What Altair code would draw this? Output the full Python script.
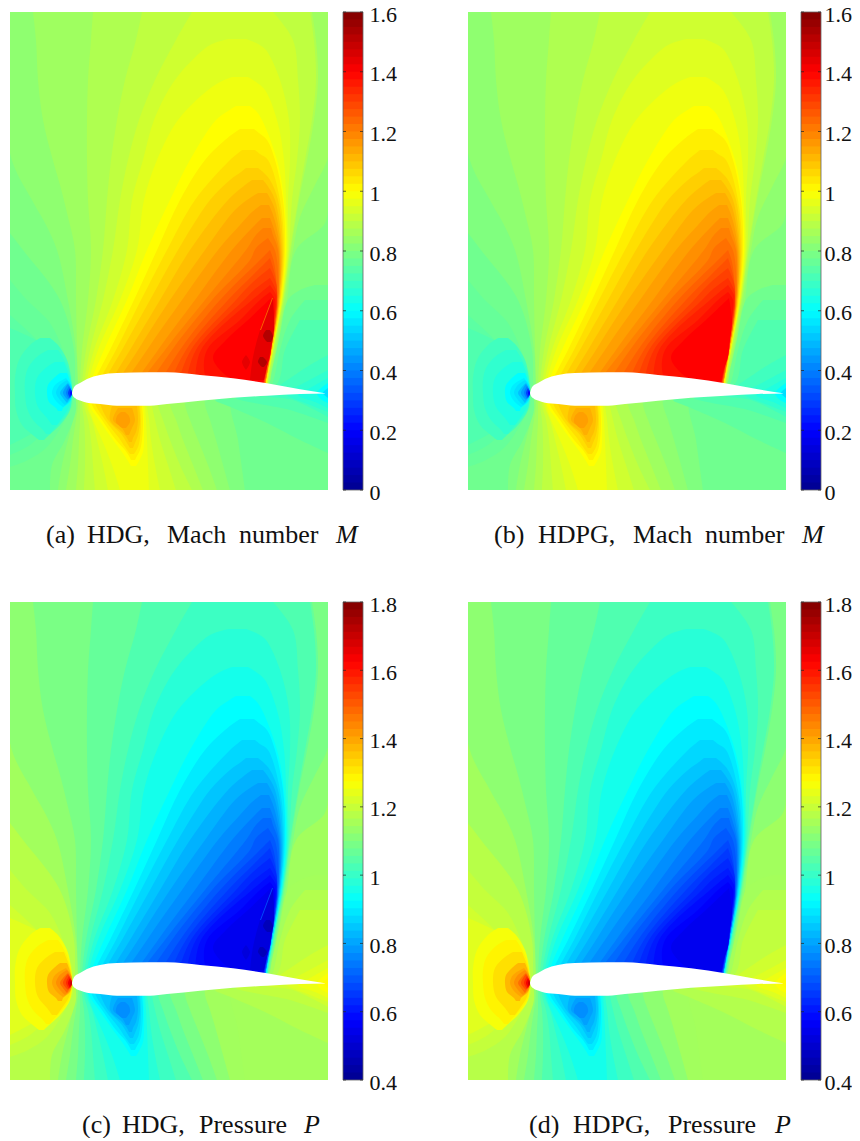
import altair as alt
import pandas as pd

# Everything below was read off the picture. Field contours are stored as rows
# (y, x_left, x_right) in the source frame (x 10..328, y 12..490).
BASE_MACH = 0.8
BASE_PRESSURE = 1.148
BASE_ROWS = [(12, 10, 328), (490, 10, 328)]

UPPER_MACH = [0.825, 0.85, 0.875, 0.9, 0.925, 0.95, 0.975, 1.0, 1.025, 1.05, 1.075, 1.1, 1.125,
              1.15, 1.175, 1.2, 1.225, 1.25, 1.275, 1.3, 1.325, 1.35, 1.375, 1.4]
UPPER_PRESSURE = [1.12, 1.092, 1.064, 1.034, 1.007, 0.98, 0.952, 0.925, 0.898, 0.872, 0.845, 0.82, 0.795,
                  0.77, 0.745, 0.72, 0.697, 0.674, 0.652, 0.63, 0.61, 0.59, 0.57, 0.55]
UPPER_ROWS = [
    [(12,10,328),(153,10,328),(200,32,328),(223,45,325),(250,57,296),(300,68,287),(350,76,277),(385,78,270),(391,78,269)],
    [(12,33,328),(40,36,328),(80,38,328),(120,43,328),(157,52,328),(185,60,315),(217,68,300),(250,75,293),(300,76,285),(350,77,276),(385,78,269),(391,78,268)],
    [(12,93,312),(40,91,316),(80,88,318),(120,87,314),(160,87,307),(200,88,299),(250,91,291),(300,88,284),(350,82,275),(385,80,268),(391,80,267)],
    [(12,142,310),(40,136,314),(80,125,316),(120,117,312),(160,111,305),(200,107,298),(250,103,290),(300,96,283),(350,86,274),(385,82,267),(391,82,266)],
    [(12,192,273),(40,176,293),(80,155,298),(120,139,300),(160,128,297),(200,120,292),(250,113,289),(300,103,283),(350,90,273),(385,84,267),(391,84,266)],
    [(39,228,246),(44,212,258),(50,203,266),(80,175,280),(120,154,289),(160,143,290),(200,132,288),(250,127,288),(300,113,282),(350,94,273),(385,86,267),(391,86,266)],
    [(77,232,248),(82,220,256),(90,208,265),(120,178,277),(160,157,284),(200,144,286),(250,137,287),(300,120,282),(350,98,273),(385,88,266),(391,88,265)],
    [(106,236,250),(111,228,256),(120,216,262),(160,190,277),(200,170,284),(250,147,286),(300,127,281),(350,104,272),(385,90,266),(391,90,265)],
    [(129,240,254),(133,234,259),(140,225,267),(160,205,275),(200,180,283),(250,157,285),(300,134,281),(350,110,272),(385,93,266),(391,93,265)],
    [(150,242,255),(154,237,260),(160,230,268),(200,195,280),(250,167,284),(300,141,280),(350,116,272),(385,98,265),(391,98,264)],
    [(168,246,258),(172,241,263),(180,230,270),(200,210,278),(250,178,283),(300,150,280),(350,122,272),(385,103,265),(391,103,264)],
    [(180,252,263),(185,245,267),(200,228,275),(250,190,282),(300,160,279),(350,130,271),(385,110,265),(391,110,264)],
    [(193,258,267),(198,250,270),(210,235,275),(250,205,281),(300,170,279),(350,138,271),(385,117,265),(391,117,264)],
    [(205,261,269),(212,252,272),(225,240,276),(250,218,280),(300,182,279),(350,147,271),(385,125,265),(391,125,264)],
    [(218,262,270),(226,254,273),(250,232,279),(300,195,278),(350,158,271),(385,135,265),(391,135,264)],
    [(228,263,271),(235,256,273),(250,246,278),(300,205,278),(350,165,271),(385,140,265),(391,140,264)],
    [(238,268,268),(248,256,274),(260,250,277),(300,212,278),(350,172,271),(385,150,264),(391,150,263)],
    [(250,270,270),(262,258,274),(300,220,277),(350,180,271),(385,160,264),(391,160,263)],
    [(258,270,270),(275,253,275),(300,228,277),(350,186,270),(385,170,264),(391,170,263)],
    [(268,270,270),(283,252,276),(300,236,277),(350,191,270),(385,178,264),(391,178,263)],
    [(278,270,270),(290,254,276),(300,244,277),(350,196,270),(385,186,263),(391,186,262)],
    [(285,270,270),(295,258,276),(300,252,276),(350,201,270),(385,195,263),(391,195,262)],
    [(292,270,270),(300,260,275),(320,240,274),(350,207,270),(375,205,265),(391,215,262)],
    [(298,271,271),(320,248,274),(340,226,272),(357,213,270),(372,222,265),(391,250,262)],
]

LOWER_MACH = [0.825, 0.85, 0.875, 0.9, 0.925, 0.95, 0.975, 1.0, 1.025, 1.05, 1.075, 1.1, 1.125, 1.15]
LOWER_PRESSURE = [1.12, 1.092, 1.064, 1.034, 1.007, 0.98, 0.952, 0.925, 0.898, 0.872, 0.845, 0.82, 0.795, 0.77]
LOWER_ROWS = [
    [(395,76,205),(405,76,205),(420,73,210),(440,68,216),(465,62,223),(490,58,230)],
    [(395,78,185),(405,78,185),(420,76,190),(440,73,198),(465,70,208),(490,66,217)],
    [(395,80,170),(405,80,170),(420,80,176),(440,79,183),(465,78,193),(490,76,203)],
    [(395,82,158),(405,82,158),(420,84,163),(440,85,170),(465,85,180),(490,84,192)],
    [(395,84,152),(405,84,152),(420,88,155),(440,91,160),(465,93,168),(490,95,176)],
    [(395,86,147),(405,86,147),(420,92,149),(440,97,151),(465,103,155),(490,108,160)],
    [(395,88,145),(405,88,145),(420,93,146),(440,102,147),(465,112,148),(490,120,149)],
    [(395,88,143),(405,89,143),(420,99,144),(440,113,144),(452,122,143),(461,128,139),(466,131,136)],
    [(395,91,141),(405,92,142),(420,102,143),(440,116,142),(450,125,140),(456,129,137),(460,131,135)],
    [(395,95,140),(403,95,140),(420,105,141),(438,119,140),(447,125,138),(454,130,134)],
    [(395,100,139),(403,100,139),(420,108,140),(435,122,138),(443,127,135),(448,130,133)],
    [(406,112,137),(420,110,138),(432,122,136),(438,127,133),(442,129,132)],
    [(408,118,132),(420,113,135),(428,122,132),(435,126,129)],
    [(412,121,125),(416,117,129),(422,116,130),(428,122,126)],
]

LEFT_MACH = [0.775, 0.76, 0.745, 0.725, 0.7, 0.675, 0.65, 0.6, 0.575, 0.55, 0.5, 0.45, 0.4, 0.3, 0.2]
LEFT_PRESSURE = [1.176, 1.194, 1.212, 1.234, 1.262, 1.29, 1.318, 1.372, 1.40, 1.43, 1.475, 1.52, 1.567, 1.64, 1.70]
LEFT_ROWS = [
    [(233,10,10),(250,10,23),(300,10,60),(350,10,74),(380,10,75),(393,10,75),(410,10,76),(440,10,65),(465,10,52),(490,10,50)],
    [(280,10,10),(300,10,27),(323,10,50),(350,10,63),(377,10,72),(393,10,73),(403,10,73),(420,10,65),(447,10,47),(460,10,28),(467,10,10)],
    [(315,10,10),(340,10,37),(365,10,58),(380,10,68),(393,10,72),(405,10,68),(425,10,50),(445,10,30),(455,10,10)],
    [(328,10,10),(345,10,44),(365,10,62),(393,10,72),(410,10,66),(430,10,38),(445,10,10)],
    [(338,40,50),(345,30,58),(360,19,67),(378,15,71),(393,15,72),(410,16,70),(425,22,60),(436,34,48),(440,39,44)],
    [(350,48,58),(356,38,62),(368,28,68),(380,25,71),(393,25,72),(408,27,70),(420,33,62),(430,43,53),(434,46,50)],
    [(362,55,64),(367,47,66),(378,37,70),(393,35,72),(407,38,69),(418,47,62),(425,52,57)],
    [(373,60,67),(378,54,69),(385,48,71),(393,47,72),(402,49,70),(408,56,63),(411,58,62)],
    [(378,66,66),(385,55,71),(393,52,72),(401,56,70),(407,63,63)],
    [(380,67,67),(386,59,71),(393,56,72),(400,60,70),(405,65,65)],
    [(383,68,68),(388,63,71),(393,60,72),(398,63,70),(403,67,67)],
    [(384,68,68),(393,63,72),(400,68,68)],
    [(386,69,69),(393,66,72),(399,69,69)],
    [(388,70,70),(393,68,72),(398,70,70)],
    [(390,71,71),(393,70,72),(396,71,71)],
]

RIGHT_MACH = [0.775, 0.75, 0.725, 0.7, 0.675, 0.65, 0.6, 0.55]
RIGHT_PRESSURE = [1.15, 1.17, 1.19, 1.21, 1.23, 1.25, 1.27, 1.28]
RIGHT_ROWS = [
    [(285,315,328),(290,300,328),(300,288,328),(340,279,328),(370,272,328),(385,268,328),(398,232,328),(440,238,328),(490,245,328)],
    [(300,305,328),(320,290,328),(350,280,328),(385,272,328),(395,265,328),(400,215,328),(408,233,328),(423,267,328),(440,300,328),(453,328,328)],
    [(320,300,328),(350,285,328),(385,276,328),(397,235,328),(410,290,328),(423,328,328)],
    [(355,328,328),(365,310,328),(385,280,328),(395,265,328),(400,293,328),(417,328,328)],
    [(370,328,328),(385,300,328),(393,285,328),(405,310,328),(412,328,328)],
    [(378,328,328),(388,310,328),(395,298,328),(402,315,328),(408,328,328)],
    [(383,328,328),(393,317,328),(400,322,328),(403,328,328)],
    [(388,328,328),(393,323,328),(398,328,328)],
]

# Only in the HDG panels: under-resolved marks at the shock.
SHOCK_MACH = [1.44, 1.52, 1.52, 1.44, 1.25]
SHOCK_PRESSURE = [0.52, 0.465, 0.465, 0.52, 0.674]
SHOCK_ROWS = [
    [(298,272,273),(330,260,274),(357,253,269),(380,250,264)],
    [(330,266,270),(336,263,273),(342,267,271)],
    [(357,260,263),(362,258,267),(367,262,264)],
    [(355,246,246),(362,242,250),(370,246,246)],
    [(298,272,273),(330,260,261)],
]

AIRFOIL_X = [72, 73, 75, 77, 80, 87, 100, 117, 150, 167, 200, 233, 267, 300, 325]
AIRFOIL_UPPER = [393, 389.5, 386, 384.5, 383, 379, 375, 373, 372.3, 372.3, 375, 378.3, 383.3, 389.3, 393.2]
AIRFOIL_LOWER = [393, 396, 398, 399.5, 400.5, 402.7, 404, 405.7, 405.7, 404, 400.7, 397.7, 395.7, 394, 393.5]

MACH_STOPS = [0, 0.2, 0.6, 1.0, 1.4, 1.6]
PRESSURE_STOPS = [0.4, 0.575, 0.925, 1.275, 1.625, 1.8]
JET = ["#00008f", "#0000ff", "#00ffff", "#ffff00", "#ff0000", "#800000"]
MACH_TICKS = [0, 0.2, 0.4, 0.6, 0.8, 1, 1.2, 1.4, 1.6]
PRESSURE_TICKS = [0.4, 0.6, 0.8, 1, 1.2, 1.4, 1.6, 1.8]
CAPTION_WORDS = [
    ["(a)", "HDG,", "Mach", "number"],
    ["(b)", "HDPG,", "Mach", "number"],
    ["(c)", "HDG,", "Pressure"],
    ["(d)", "HDPG,", "Pressure"],
]
CAPTION_AT = [[36, 77, 157, 229], [26, 70, 165, 237], [72, 112, 189], [61, 105, 200]]
CAPTION_VARS = ["M", "M", "P", "P"]
VAR_AT = [326, 334, 294, 307]
LABEL_PAD = [6, 3, 6, 3]
SERIF = "Liberation Serif"
CAP_SIZE = 26
BAND_COUNT = 64


def field_table(use_pressure, with_shock):
    rows, band = [], 0
    families = [
        ([BASE_PRESSURE if use_pressure else BASE_MACH], [BASE_ROWS]),
        (UPPER_PRESSURE if use_pressure else UPPER_MACH, UPPER_ROWS),
        (LOWER_PRESSURE if use_pressure else LOWER_MACH, LOWER_ROWS),
        (LEFT_PRESSURE if use_pressure else LEFT_MACH, LEFT_ROWS),
        (RIGHT_PRESSURE if use_pressure else RIGHT_MACH, RIGHT_ROWS),
    ]
    if with_shock:
        families.append((SHOCK_PRESSURE if use_pressure else SHOCK_MACH, SHOCK_ROWS))
    for values, contours in families:
        for value, contour in zip(values, contours):
            band += 1
            for y, left, right in contour:
                rows.append({"band": f"b{band:03d}", "v": value, "y": y, "xl": left, "xr": right})
    return pd.DataFrame(rows)


def cell(index, use_pressure, with_shock):
    stops = PRESSURE_STOPS if use_pressure else MACH_STOPS
    ticks = PRESSURE_TICKS if use_pressure else MACH_TICKS
    x_scale = alt.Scale(domain=[10, 363], nice=False, zero=False)
    y_scale = alt.Scale(domain=[490, 12], nice=False, zero=False)
    color_scale = alt.Scale(domain=stops, range=JET, interpolate="rgb", clamp=True)
    field = alt.Chart(field_table(use_pressure, with_shock)).mark_area(
        orient="horizontal", interpolate="catmull-rom", clip=True
    ).encode(
        y=alt.Y("y:Q", scale=y_scale, axis=None),
        x=alt.X("xl:Q", scale=x_scale, axis=None),
        x2="xr:Q",
        color=alt.Color("v:Q", legend=None, scale=color_scale),
        detail="band:N",
    )
    mask = alt.Chart(pd.DataFrame({"v": [0]})).mark_rect(color="white").encode(
        x=alt.value(318), x2=alt.value(332), y=alt.value(0), y2=alt.value(478))
    wing = alt.Chart(pd.DataFrame({"x": AIRFOIL_X, "u": AIRFOIL_UPPER, "l": AIRFOIL_LOWER})).mark_area(
        color="white", interpolate="monotone"
    ).encode(
        x=alt.X("x:Q", scale=x_scale, axis=None),
        y=alt.Y("u:Q", scale=y_scale, axis=None),
        y2="l:Q",
    )
    words = pd.DataFrame({"t": CAPTION_WORDS[index], "x": [p + 10 for p in CAPTION_AT[index]]})
    caption = alt.Chart(words).mark_text(
        font=SERIF, fontSize=CAP_SIZE, align="left", baseline="alphabetic", color="#111111"
    ).encode(text="t:N", x=alt.X("x:Q", scale=x_scale, axis=None), y=alt.value(531))
    symbol = alt.Chart(pd.DataFrame({"t": [CAPTION_VARS[index]], "x": [VAR_AT[index] + 10]})).mark_text(
        font=SERIF, fontSize=CAP_SIZE, fontStyle="italic", align="left", baseline="alphabetic", color="#111111"
    ).encode(text="t:N", x=alt.X("x:Q", scale=x_scale, axis=None), y=alt.value(531))

    low, high = stops[0], stops[-1]
    step = (high - low) / BAND_COUNT
    bar = pd.DataFrame({"lo": [low + i * step for i in range(BAND_COUNT)]})
    bar["hi"] = bar["lo"] + step * 1.3
    bar["v"] = bar["lo"] + step / 2
    bar_scale = alt.Scale(domain=[low, high], nice=False, zero=False)
    cells = alt.Chart(bar).mark_rect(clip=True).encode(
        y=alt.Y("lo:Q", scale=bar_scale, axis=alt.Axis(
            orient="right", values=ticks, title=None, grid=False, domain=False, ticks=False,
            labelFont=SERIF, labelFontSize=22, labelColor="#111111", labelPadding=LABEL_PAD[index], labelOffset=2,
            labelExpr="format(datum.value, '.1~f')", labelOverlap=False, labelBound=False, labelFlush=False,
        )),
        y2="hi:Q",
        x=alt.value(333),
        x2=alt.value(353),
        color=alt.Color("v:Q", legend=None, scale=color_scale),
    )
    outline = alt.Chart(pd.DataFrame({"v": [low]})).mark_rect(
        fillOpacity=0, stroke="#666666", strokeWidth=0.8
    ).encode(x=alt.value(333), x2=alt.value(353), y=alt.value(0), y2=alt.value(478))
    tick_frame = pd.DataFrame({"v": ticks})
    left = alt.Chart(tick_frame).mark_rule(color="#222222", strokeWidth=0.7).encode(
        y=alt.Y("v:Q", scale=bar_scale, axis=None), x=alt.value(333), x2=alt.value(336))
    right = alt.Chart(tick_frame).mark_rule(color="#222222", strokeWidth=0.7).encode(
        y=alt.Y("v:Q", scale=bar_scale, axis=None), x=alt.value(350), x2=alt.value(353))
    return alt.layer(field, mask, wing, caption, symbol, cells, outline, left, right).resolve_scale(
        y="independent"
    ).properties(width=353, height=478)


chart = alt.concat(
    cell(0, False, True), cell(1, False, False), cell(2, True, True), cell(3, True, False),
    columns=2, spacing={"row": 112, "column": 105}, bounds="flush",
).resolve_scale(color="independent").properties(
    padding={"left": 2, "top": -5, "right": 0, "bottom": 0}
).configure_view(stroke=None)

chart.save("out.html", embed_options={"renderer": "svg", "actions": False})
